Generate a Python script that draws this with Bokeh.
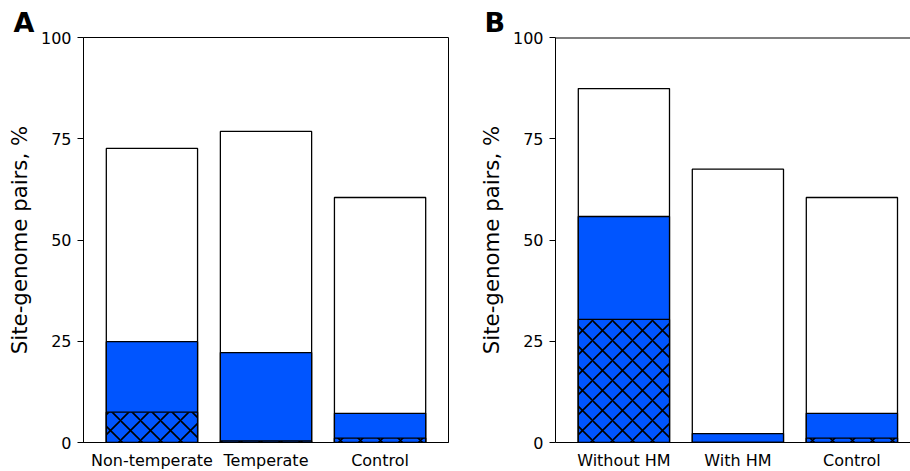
from bokeh.plotting import figure
from bokeh.layouts import row
from bokeh.models import FixedTicker, Range1d, Span, Title
from bokeh.embed import file_html
from bokeh.resources import INLINE

# ---- data ----
cats_a = ["Non-temperate", "Temperate", "Control"]
total_a = [72.6, 76.8, 60.5]
blue_a = [24.9, 22.2, 7.2]
hatch_a = [7.5, 0.4, 1.1]

cats_b = ["Without HM", "With HM", "Control"]
total_b = [87.4, 67.5, 60.5]
blue_b = [55.8, 2.2, 7.2]
hatch_b = [30.4, 0.0, 1.1]

y_ticks = [0, 25, 50, 75, 100]
y_label = "Site-genome pairs, %"

BLUE = "#0055ff"
FONT = "DejaVu Sans"


def make_panel(cats, total, blue, hatch, letter, x_end, frame_w, right_border, letter_dx, full_box):
    xs = list(range(len(cats)))
    title = Title(text=letter, align="left", offset=letter_dx, standoff=0,
                  vertical_align="bottom", text_font=FONT, text_font_size="27px",
                  text_font_style="bold", text_color="black")
    p = figure(output_backend="svg", toolbar_location=None,
               frame_width=frame_w, frame_height=405,
               min_border_left=83, min_border_right=right_border,
               min_border_top=37, min_border_bottom=29,
               x_range=Range1d(-0.6, x_end), y_range=Range1d(0, 100),
               title=title)
    p.background_fill_color = "white"
    p.border_fill_color = "white"
    p.grid.visible = False

    common = dict(width=0.8, line_color="black", line_width=1.3)
    p.vbar(x=xs, top=total, fill_color="white", **common)
    p.vbar(x=xs, top=blue, fill_color=BLUE, **common)
    p.vbar(x=xs, top=hatch, fill_color=BLUE, hatch_pattern="diagonal_cross",
           hatch_color="black", hatch_scale=20, hatch_weight=1.6, **common)

    if full_box:
        p.outline_line_color = "black"
        p.outline_line_width = 1
        p.outline_line_alpha = 1
    else:
        p.outline_line_color = None
        p.add_layout(Span(location=100, dimension="width", line_color="black", line_width=2))

    xa = p.xaxis[0]
    xa.ticker = FixedTicker(ticks=xs)
    xa.major_label_overrides = {i: c for i, c in enumerate(cats)}
    xa.major_tick_out = 0
    xa.major_tick_in = 0
    xa.minor_tick_out = 0
    xa.minor_tick_in = 0
    xa.major_label_standoff = 8
    xa.major_label_text_font = FONT
    xa.major_label_text_font_size = "16px"
    xa.major_label_text_color = "black"
    xa.axis_line_color = "black"

    ya = p.yaxis[0]
    ya.ticker = FixedTicker(ticks=y_ticks)
    ya.major_tick_out = 6
    ya.major_tick_in = 0
    ya.minor_tick_out = 0
    ya.minor_tick_in = 0
    ya.major_tick_line_color = "black"
    ya.major_label_standoff = 6
    ya.major_label_text_font = FONT
    ya.major_label_text_font_size = "16px"
    ya.major_label_text_color = "black"
    ya.axis_line_color = "black"
    ya.axis_label = y_label
    ya.axis_label_text_font = FONT
    ya.axis_label_text_font_size = "21.3px"
    ya.axis_label_text_font_style = "normal"
    ya.axis_label_text_color = "black"
    ya.axis_label_standoff = 6
    return p


pa = make_panel(cats_a, total_a, blue_a, hatch_a, "A", 2.6, 365, 24, -70, True)
pb = make_panel(cats_b, total_b, blue_b, hatch_b, "B", -0.6 + 355 / 114.0, 355, 0, -71, False)

layout = row(pa, pb)
open("out.html", "w").write(file_html(layout, INLINE))
